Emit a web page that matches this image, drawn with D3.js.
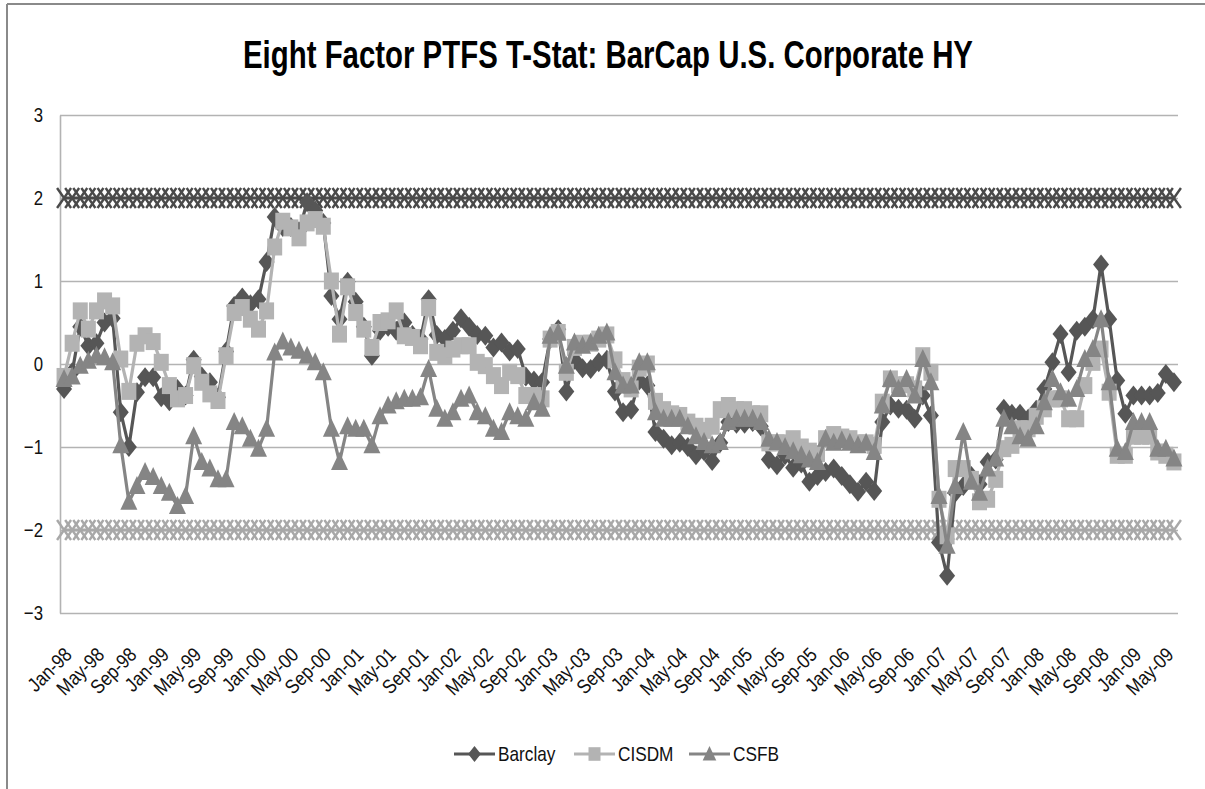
<!DOCTYPE html>
<html>
<head>
<meta charset="utf-8">
<script src="https://cdn.jsdelivr.net/npm/d3@7"></script>
<style>
  body { margin: 0; background: #fff; }
  text { font-family: "Liberation Sans", Arial, sans-serif; }
</style>
</head>
<body>
<div id="chart"></div>
<script>
// monthly categories Jan-98 .. Jun-09
const months = d3.timeMonth.range(new Date(1998, 0, 1), new Date(2009, 6, 1)).map(d3.timeFormat("%b-%y"));

const tickLabels = ["Jan-98","May-98","Sep-98","Jan-99","May-99","Sep-99","Jan-00","May-00","Sep-00",
  "Jan-01","May-01","Sep-01","Jan-02","May-02","Sep-02","Jan-03","May-03","Sep-03","Jan-04","May-04",
  "Sep-04","Jan-05","May-05","Sep-05","Jan-06","May-06","Sep-06","Jan-07","May-07","Sep-07","Jan-08",
  "May-08","Sep-08","Jan-09","May-09"];
const yTicks = [-3, -2, -1, 0, 1, 2, 3];

const barclay = [
  -0.3,-0.1,0.45,0.22,0.25,0.5,0.55,-0.58,-1.0,-0.34,-0.16,-0.16,
  -0.4,-0.45,-0.3,-0.38,0.05,-0.15,-0.22,-0.4,0.15,0.7,0.8,0.72,
  0.78,1.23,1.77,1.65,1.65,1.6,1.95,1.85,1.7,0.82,0.54,0.99,
  0.75,0.45,0.1,0.4,0.45,0.4,0.5,0.35,0.3,0.78,0.35,0.3,
  0.4,0.55,0.45,0.35,0.34,0.2,0.26,0.15,0.18,-0.15,-0.2,-0.22,
  0.3,0.42,-0.33,0.05,-0.05,-0.06,0.02,0.05,-0.33,-0.58,-0.55,-0.2,
  -0.26,-0.82,-0.9,-0.98,-0.95,-1.0,-1.1,-1.05,-1.17,-0.95,-0.7,-0.72,
  -0.72,-0.7,-0.75,-1.15,-1.22,-1.1,-1.25,-1.2,-1.42,-1.35,-1.3,-1.26,
  -1.35,-1.45,-1.54,-1.42,-1.53,-0.7,-0.5,-0.54,-0.55,-0.66,-0.38,-0.62,
  -2.15,-2.55,-1.55,-1.47,-1.35,-1.45,-1.18,-1.15,-0.54,-0.6,-0.6,-0.66,
  -0.55,-0.3,0.02,0.36,-0.1,0.4,0.45,0.54,1.2,0.54,-0.2,-0.6,
  -0.38,-0.38,-0.38,-0.35,-0.12,-0.22
];

const cisdm = [
  -0.15,0.25,0.64,0.42,0.64,0.76,0.7,0.06,-0.33,0.25,0.34,0.27,
  0.02,-0.26,-0.42,-0.38,-0.02,-0.22,-0.36,-0.44,0.1,0.62,0.68,0.54,
  0.42,0.64,1.41,1.72,1.64,1.52,1.7,1.74,1.66,1.0,0.36,0.93,
  0.62,0.42,0.2,0.5,0.52,0.64,0.34,0.32,0.22,0.68,0.14,0.1,
  0.18,0.22,0.22,0.02,-0.02,-0.14,-0.26,-0.1,-0.14,-0.38,-0.38,-0.42,
  0.3,0.38,-0.1,0.2,0.25,0.25,0.3,0.35,0.05,-0.2,-0.3,-0.05,
  0.0,-0.45,-0.55,-0.6,-0.62,-0.7,-0.75,-0.8,-0.75,-0.55,-0.5,-0.55,
  -0.55,-0.6,-0.6,-0.95,-0.95,-0.95,-0.9,-1.0,-1.05,-1.08,-0.9,-0.85,
  -0.88,-0.9,-0.95,-0.95,-0.98,-0.46,-0.18,-0.25,-0.25,-0.3,0.1,-0.1,
  -1.63,-2.07,-1.26,-1.26,-1.39,-1.66,-1.63,-1.39,-1.02,-0.98,-0.78,-0.78,
  -0.63,-0.54,-0.42,-0.42,-0.66,-0.66,-0.26,0.02,0.18,-0.34,-1.1,-1.1,
  -0.87,-0.87,-0.87,-1.06,-1.1,-1.18
];

const csfb = [
  -0.18,-0.15,-0.02,0.04,0.1,0.08,0.02,-0.98,-1.66,-1.47,-1.3,-1.36,
  -1.47,-1.55,-1.71,-1.59,-0.87,-1.18,-1.26,-1.39,-1.39,-0.7,-0.75,-0.9,
  -1.02,-0.78,0.14,0.27,0.2,0.16,0.1,0.02,-0.1,-0.78,-1.18,-0.75,
  -0.78,-0.78,-0.98,-0.63,-0.5,-0.45,-0.42,-0.42,-0.4,-0.06,-0.54,-0.66,
  -0.58,-0.42,-0.38,-0.58,-0.63,-0.78,-0.82,-0.58,-0.63,-0.66,-0.46,-0.54,
  0.34,0.38,-0.02,0.26,0.22,0.26,0.34,0.38,-0.1,-0.26,-0.26,0.02,
  0.02,-0.58,-0.66,-0.66,-0.66,-0.75,-0.87,-0.94,-0.98,-0.94,-0.7,-0.66,
  -0.66,-0.66,-0.7,-0.9,-0.94,-1.0,-1.05,-1.1,-1.15,-1.18,-0.9,-0.95,
  -0.92,-0.95,-0.98,-0.95,-1.06,-0.5,-0.18,-0.3,-0.18,-0.38,0.06,-0.22,
  -1.59,-2.19,-1.47,-0.82,-1.42,-1.55,-1.26,-1.14,-0.66,-0.75,-0.87,-0.9,
  -0.75,-0.46,-0.18,-0.34,-0.42,-0.3,0.06,0.18,0.54,-0.22,-1.02,-1.06,
  -0.7,-0.7,-0.7,-1.02,-1.02,-1.14
];

// significance bands at +/-2
const upperBound = 2;
const lowerBound = -2;

const WIDTH = 1205, HEIGHT = 789;
const PLOT = {left: 60, right: 1178, top: 115, bottom: 613};
const SQUEEZE = 0.8;   // narrow the glyphs, the original font is a condensed one

const svg = d3.select("#chart").append("svg")
  .attr("width", WIDTH)
  .attr("height", HEIGHT);

// outer chart border (only top and left visible)
svg.append("line").attr("x1", 7).attr("y1", 4).attr("x2", WIDTH).attr("y2", 4)
  .attr("stroke", "#8a8a8a").attr("stroke-width", 2);
svg.append("line").attr("x1", 7).attr("y1", 4).attr("x2", 7).attr("y2", HEIGHT)
  .attr("stroke", "#8a8a8a").attr("stroke-width", 2);

// title, scaled to the width it has in the picture
const title = svg.append("text")
  .attr("x", 0).attr("y", 0)
  .attr("font-size", 38).attr("font-weight", "bold").attr("fill", "#000")
  .text("Eight Factor PTFS T-Stat: BarCap U.S. Corporate HY");
const titleLen = title.node().getComputedTextLength();
title.attr("transform", "translate(243,68) scale(" + (730 / titleLen) + ",1)");

const X = d3.scaleBand().domain(months).range([PLOT.left, PLOT.right]);
const Y = d3.scaleLinear().domain([-3, 3]).range([PLOT.bottom, PLOT.top]);
const cx = m => X(m) + X.bandwidth() / 2;

// y axis + gridlines
const yAxis = svg.append("g")
  .attr("transform", "translate(" + PLOT.left + ",0)")
  .call(d3.axisLeft(Y).tickValues(yTicks).tickFormat(d3.format("d"))
    .tickSize(-(PLOT.right - PLOT.left)).tickSizeOuter(0).tickPadding(17));
yAxis.selectAll("line").attr("stroke", "#b3b3b3").attr("stroke-width", 1.6);
yAxis.select(".domain").attr("stroke", "#b3b3b3").attr("stroke-width", 1.6);
yAxis.selectAll("text").attr("font-size", 21).attr("fill", "#111")
  .style("font-family", "'Liberation Sans', sans-serif")
  .attr("x", -17 / SQUEEZE)
  .attr("transform", "scale(" + SQUEEZE + ",1)");

// x axis labels
const xAxis = svg.append("g")
  .attr("transform", "translate(0," + PLOT.bottom + ")")
  .call(d3.axisBottom(X).tickValues(tickLabels).tickSize(0));
xAxis.select(".domain").remove();
xAxis.selectAll("text")
  .attr("font-size", 20).attr("fill", "#111")
  .style("font-family", "'Liberation Sans', sans-serif")
  .attr("text-anchor", "end")
  .attr("x", 0).attr("y", 0).attr("dy", "0.35em")
  .attr("transform", "translate(4,38) rotate(-45) scale(0.86,1)");

// marker shapes
function xMark(w, h) { return "M" + (-w) + "," + (-h) + "L" + w + "," + h + "M" + (-w) + "," + h + "L" + w + "," + (-h); }
function diamond(w, h) { return "M0," + (-h) + "L" + w + ",0L0," + h + "L" + (-w) + ",0Z"; }
function square(w, h) { return "M" + (-w) + "," + (-h) + "H" + w + "V" + h + "H" + (-w) + "Z"; }
function triangle(w, h) { return "M0," + (-h) + "L" + w + "," + (h * 0.8) + "L" + (-w) + "," + (h * 0.8) + "Z"; }

// the two +/-2 bands drawn as x-marker series
const bands = [
  {value: upperBound, color: "#4a4a4a"},
  {value: lowerBound, color: "#a8a8a8"}
];
bands.forEach(b => {
  const g = svg.append("g");
  g.append("line")
    .attr("x1", cx(months[0])).attr("x2", cx(months[months.length - 1]))
    .attr("y1", Y(b.value)).attr("y2", Y(b.value))
    .attr("stroke", b.color).attr("stroke-width", 3);
  g.selectAll("path").data(months).enter().append("path")
    .attr("transform", d => "translate(" + cx(d) + "," + Y(b.value) + ")")
    .attr("d", xMark(7, 10))
    .attr("stroke", b.color).attr("stroke-width", 2.4).attr("fill", "none");
});

const series = [
  {name: "Barclay", values: barclay, color: "#565656", shape: diamond, w: 8, h: 10},
  {name: "CISDM", values: cisdm, color: "#b3b3b3", shape: square, w: 7.5, h: 8.5},
  {name: "CSFB", values: csfb, color: "#858585", shape: triangle, w: 8.5, h: 10}
];

const line = d3.line().x((d, i) => cx(months[i])).y(d => Y(d));

series.forEach(s => {
  const g = svg.append("g");
  g.append("path").datum(s.values)
    .attr("d", line)
    .attr("fill", "none").attr("stroke", s.color).attr("stroke-width", 3.2)
    .attr("stroke-linejoin", "round");
  g.selectAll("path.mk").data(s.values).enter().append("path")
    .attr("class", "mk")
    .attr("transform", (d, i) => "translate(" + cx(months[i]) + "," + Y(d) + ")")
    .attr("d", s.shape(s.w, s.h))
    .attr("fill", s.color);
});

// legend
const legendPos = [454, 574, 689];
const legY = 754;
series.forEach((s, i) => {
  const g = svg.append("g").attr("transform", "translate(" + legendPos[i] + "," + legY + ")");
  g.append("line").attr("x1", 0).attr("x2", 41).attr("y1", 0).attr("y2", 0)
    .attr("stroke", s.color).attr("stroke-width", 3.2);
  g.append("path").attr("transform", "translate(20.5,0)")
    .attr("d", s.shape(s.w * 0.8, s.h * 0.8)).attr("fill", s.color);
  g.append("text").attr("x", 0).attr("y", 0).attr("dy", "0.35em")
    .attr("transform", "translate(44,0) scale(0.82,1)")
    .attr("font-size", 21).attr("fill", "#111")
    .text(s.name);
});
</script>
</body>
</html>
